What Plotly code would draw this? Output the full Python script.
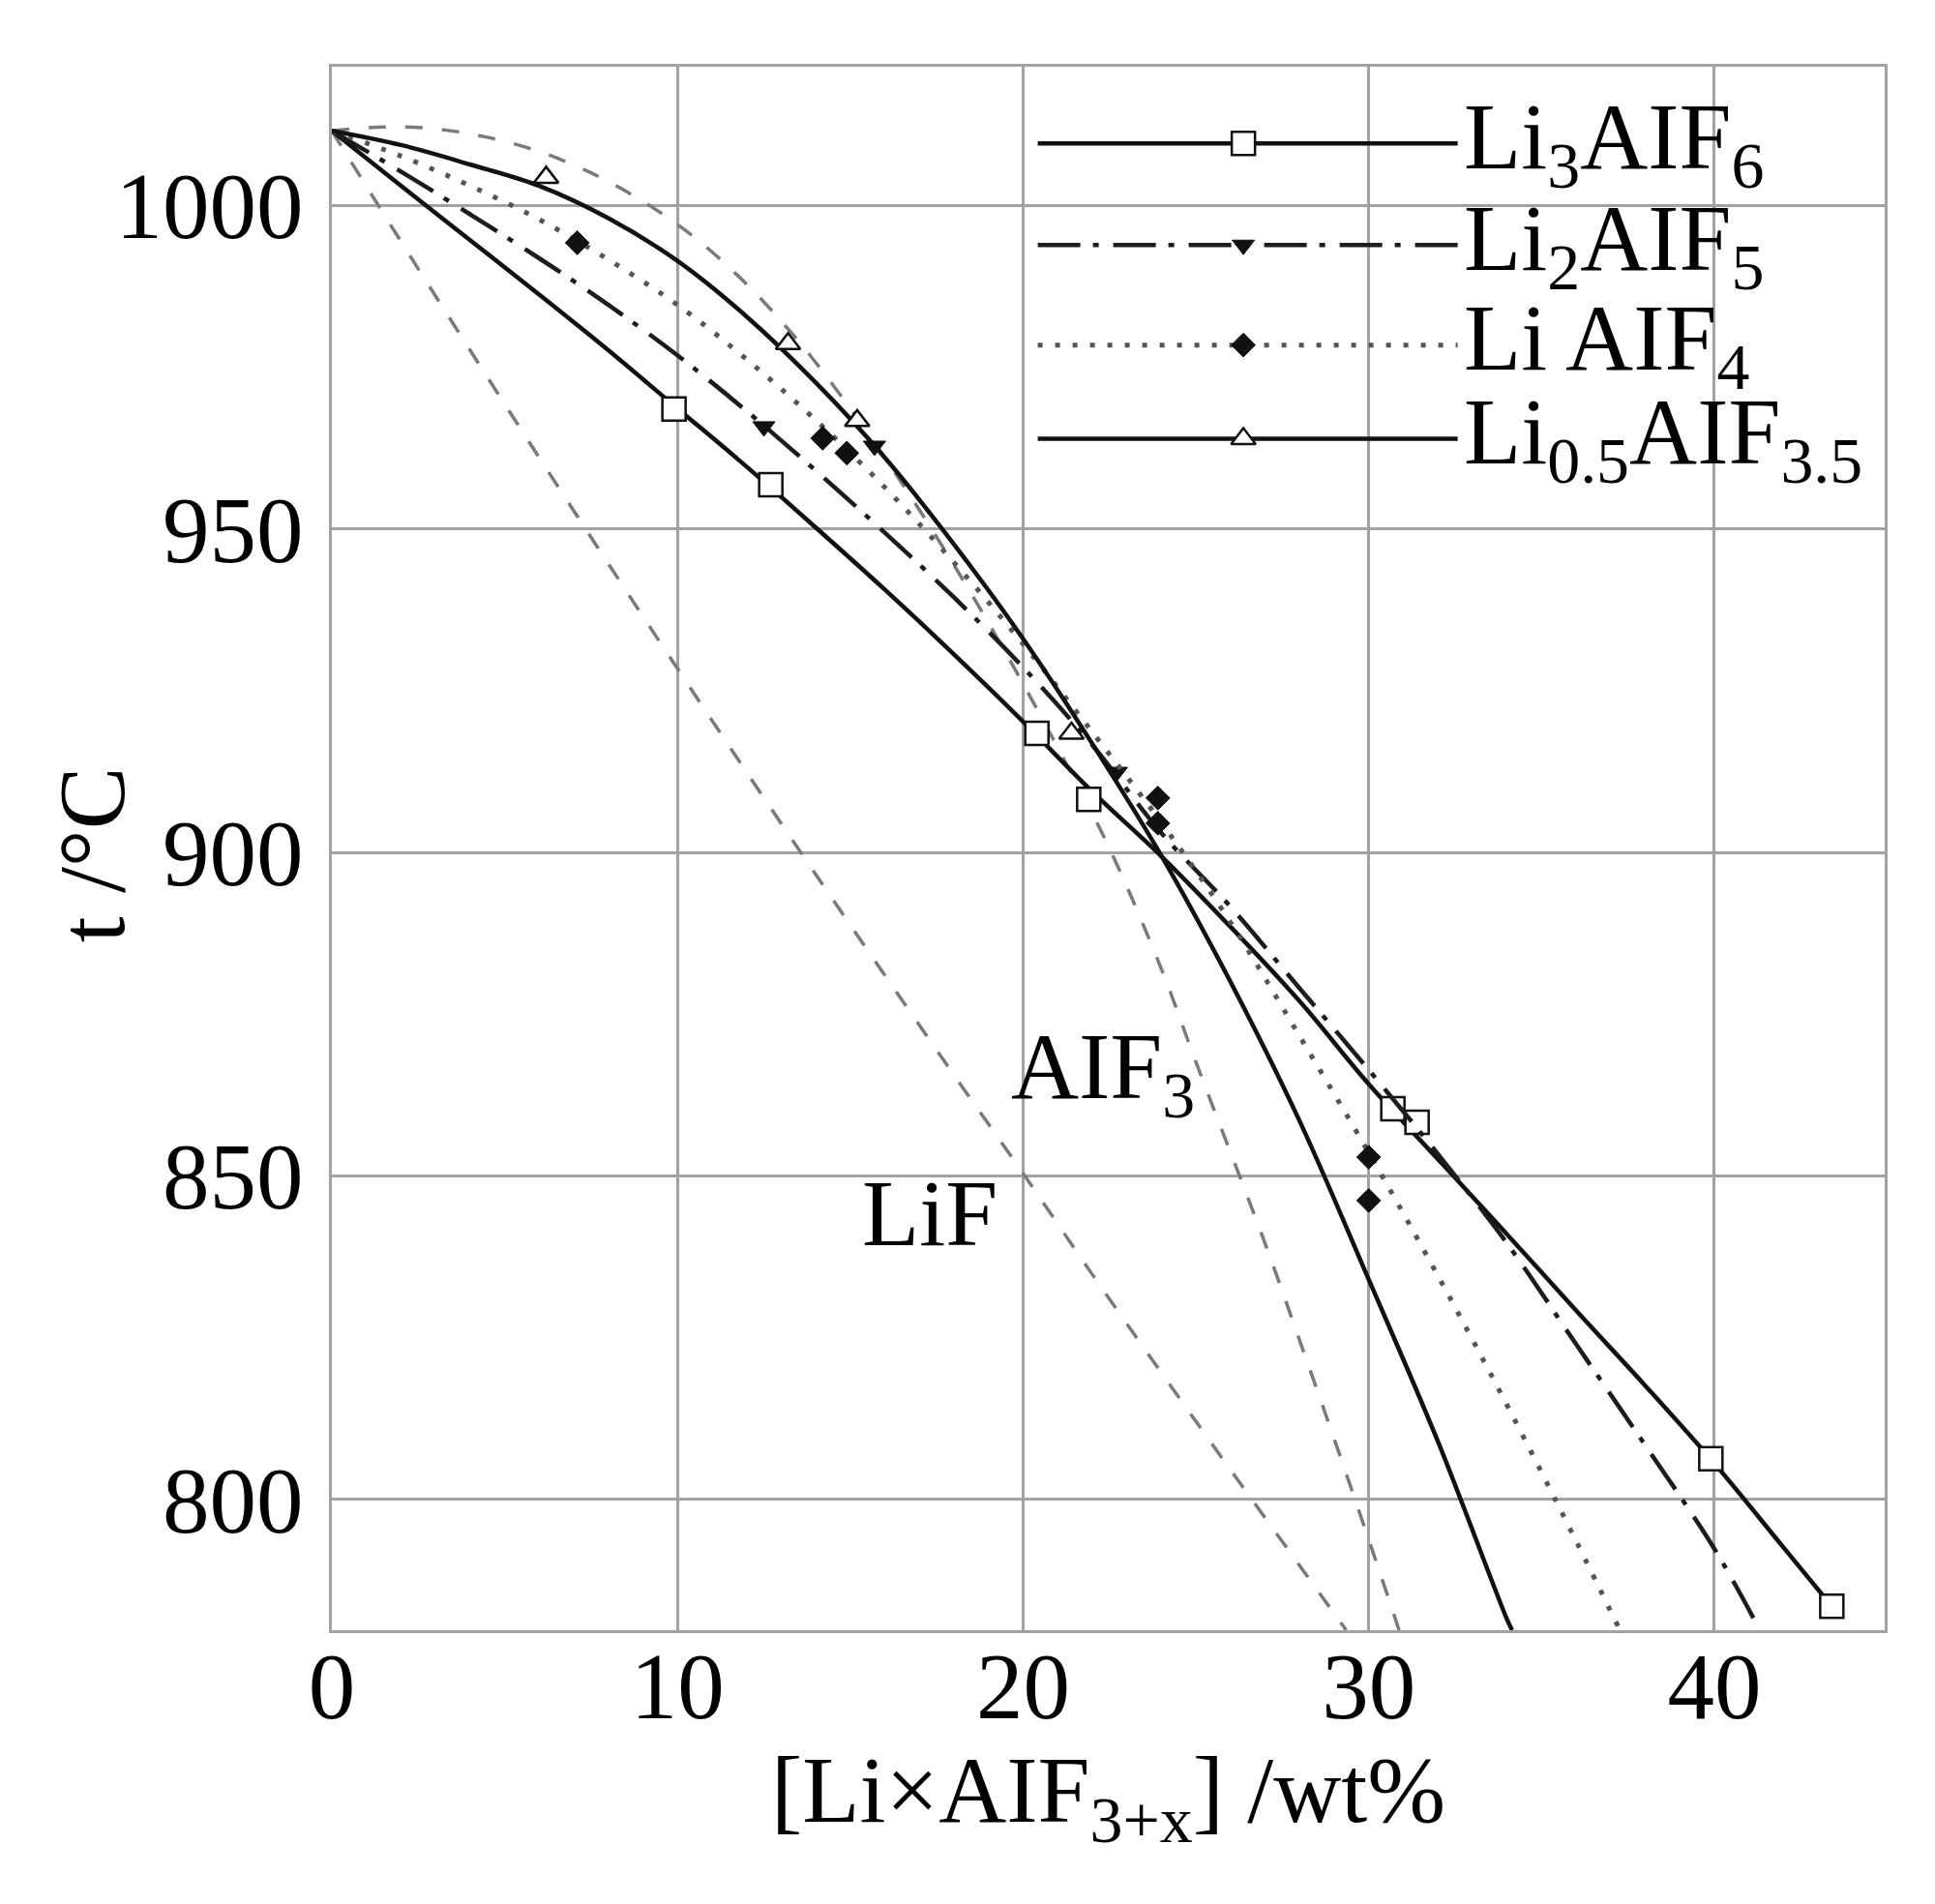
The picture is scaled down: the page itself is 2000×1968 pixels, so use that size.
import plotly.graph_objects as go

##############################################################################
# Values  (x: wt% of Li_xAlF_3+x, y: t in deg C)
##############################################################################
x_ticks = [0, 10, 20, 30, 40]
y_ticks = [800, 850, 900, 950, 1000]

series_names = ["Li<sub>3</sub>AIF<sub>6</sub>", "Li<sub>2</sub>AIF<sub>5</sub>",
                "Li AIF<sub>4</sub>", "Li<sub>0.5</sub>AIF<sub>3.5</sub>"]

# Li3AlF6 - solid line, open squares
li3_x = [0, 2, 4, 6, 8, 10, 12, 14, 16, 18, 20, 22, 24, 26, 28, 30, 32, 34, 36,
         38, 40, 42, 43.4]
li3_y = [1011.5, 1003.0, 994.6, 986.2, 977.6, 968.6, 959.6, 950.2, 940.6, 930.6,
         920.2, 909.4, 899.4, 888.5, 877.0, 864.2, 852.6, 841.0, 829.2, 817.6,
         805.6, 792.6, 783.5]
li3_pt_x = [9.9, 12.7, 20.4, 21.9, 30.7, 31.4, 39.9, 43.4]
li3_pt_y = [968.5, 956.8, 918.4, 908.2, 860.4, 858.3, 806.3, 783.5]

# Li2AlF5 - dash-dot line, filled down triangles
li2_x = [0, 2, 4, 6, 8, 10, 12, 14, 16, 18, 20, 22, 24, 26, 28, 30, 32, 34, 36,
         38, 40, 41.3]
li2_y = [1011.5, 1005.2, 998.6, 991.8, 984.6, 976.8, 968.2, 959.0, 949.4, 939.4,
         928.6, 916.6, 903.0, 891.6, 879.0, 866.4, 853.4, 839.6, 824.0, 808.4,
         792.4, 780.0]
li2_pt_x = [12.5, 15.7, 22.7]
li2_pt_y = [965.8, 962.8, 912.4]

# LiAlF4 - dotted line, filled diamonds
li1_x = [0, 2, 4, 6, 8, 10, 12, 14, 16, 18, 20, 22, 24, 26, 28, 30, 32, 34, 36, 37.25]
li1_y = [1011.5, 1007.6, 1003.0, 997.8, 991.6, 984.6, 976.2, 966.8, 956.4, 944.8,
         932.2, 918.6, 904.6, 889.2, 871.6, 853.6, 834.6, 814.6, 793.6, 780.0]
li1_pt_x = [7.1, 14.2, 14.9, 23.9, 23.9, 30.0, 30.0]
li1_pt_y = [994.2, 964.0, 961.7, 908.4, 904.5, 852.9, 846.2]

# Li0.5AlF3.5 - solid line, open triangles
li05_x = [0, 2, 4, 6, 8, 10, 12, 14, 16, 18, 20, 22, 24, 26, 28, 30, 32, 34, 34.15]
li05_y = [1011.5, 1009.3, 1006.3, 1003.0, 998.0, 991.4, 982.8, 972.6, 961.0, 947.6,
          933.0, 916.8, 899.5, 880.0, 858.5, 834.0, 809.0, 781.5, 779.8]
li05_pt_x = [6.2, 13.2, 15.2, 21.4]
li05_pt_y = [1004.3, 978.6, 966.7, 918.4]

# ideal liquidus lines (grey dashed)
lif_x = [0, 2, 4, 6, 8, 10, 12, 14, 16, 18, 20, 22, 24, 26, 28, 29.35]
lif_y = [1011.5, 994.4, 977.6, 961.0, 944.6, 928.4, 912.4, 896.6, 881.0, 865.6,
         850.4, 834.8, 819.6, 804.6, 789.8, 779.8]
alf3_x = [0, 1.5, 3, 4.5, 6, 7.5, 9, 10.5, 12, 13.5, 15, 16.5, 18, 19.5, 21, 22.5,
          24, 25, 27, 28, 29, 30, 30.6, 30.88]
alf3_y = [1011.5, 1012.1, 1011.8, 1010.5, 1008.3, 1005.0, 1000.6, 995.0, 987.8,
          979.0, 968.6, 957.0, 944.4, 930.8, 916.2, 900.6, 882.0, 867.6, 839.6,
          824.6, 809.4, 793.8, 784.3, 779.8]

##############################################################################
# Styles
##############################################################################
FONT = "Liberation Serif"
FS = 97
GRID = "#a2a2a2"
INK = "#111111"

line_styles = [
    dict(color=INK, width=4.5, dash="solid"),
    dict(color="#1c1c1c", width=4.5, dash="44px,13px,6px,15px"),
    dict(color="#555555", width=5, dash="5px,13px"),
    dict(color=INK, width=4.5, dash="solid"),
]
marker_styles = [
    dict(symbol="square", size=24, color="white", line=dict(color=INK, width=2.5)),
    dict(symbol="triangle-down", size=20, color=INK, line=dict(color=INK, width=1)),
    dict(symbol="diamond", size=19, color=INK, line=dict(color=INK, width=1)),
    dict(symbol="triangle-up", size=22, color="white", line=dict(color=INK, width=2.5)),
]
curves = [(li3_x, li3_y, li3_pt_x, li3_pt_y),
          (li2_x, li2_y, li2_pt_x, li2_pt_y),
          (li1_x, li1_y, li1_pt_x, li1_pt_y),
          (li05_x, li05_y, li05_pt_x, li05_pt_y)]

##############################################################################
# Figure
##############################################################################
fig = go.Figure()

dash_line = dict(color="#7a7a7a", width=3.5, dash="18px,20px")
fig.add_trace(go.Scatter(x=lif_x, y=lif_y, mode="lines", line=dash_line,
                         line_shape="spline", showlegend=False, name="LiF"))
fig.add_trace(go.Scatter(x=alf3_x, y=alf3_y, mode="lines", line=dash_line,
                         line_shape="spline", showlegend=False, name="AIF3"))

for (cx, cy, px, py), ls, ms, nm in zip(curves, line_styles, marker_styles, series_names):
    fig.add_trace(go.Scatter(x=cx, y=cy, mode="lines", line=ls, line_shape="spline",
                             showlegend=False, name=nm))
    fig.add_trace(go.Scatter(x=px, y=py, mode="markers", marker=ms,
                             showlegend=False, name=nm))

# hand-made legend (long sample lines) drawn on an overlay 0..1 axis pair
leg_x0, leg_x1, leg_xm, leg_text_x = 0.4546, 0.725, 0.587, 0.728
leg_rows = [0.951, 0.886, 0.822, 0.762]
for row, ls, ms, nm in zip(leg_rows, line_styles, marker_styles, series_names):
    fig.add_trace(go.Scatter(x=[leg_x0, leg_x1], y=[row, row], mode="lines", line=ls,
                             xaxis="x2", yaxis="y2", showlegend=False, hoverinfo="skip"))
    fig.add_trace(go.Scatter(x=[leg_xm], y=[row], mode="markers", marker=ms,
                             xaxis="x2", yaxis="y2", showlegend=False, hoverinfo="skip"))
    fig.add_annotation(x=leg_text_x, y=row, xref="paper", yref="paper", text=nm,
                       showarrow=False, xanchor="left", yanchor="middle",
                       font=dict(family=FONT, size=FS, color="black"))

fig.add_annotation(x=19.6, y=865.8, text="AIF<sub>3</sub>", showarrow=False,
                   xanchor="left", yanchor="middle", font=dict(family=FONT, size=FS, color="black"))
fig.add_annotation(x=17.3, y=844.2, text="LiF", showarrow=False,
                   xanchor="center", yanchor="middle", font=dict(family=FONT, size=FS, color="black"))

# y axis title placed by hand: it sits closer to the tick labels than plotly allows
fig.add_annotation(x=-0.154, y=0.496, xref="paper", yref="paper", text="t /°C",
                   textangle=-90, showarrow=False, xanchor="center", yanchor="middle",
                   font=dict(family=FONT, size=FS, color="black"))

axis_common = dict(showgrid=True, gridcolor=GRID, gridwidth=3, zeroline=False,
                   showline=True, linecolor=GRID, linewidth=3, mirror=True, ticks="",
                   tickfont=dict(family=FONT, size=FS, color="black"))

fig.update_layout(
    width=2000, height=1968,
    margin=dict(l=335, r=60, t=61, b=291),
    paper_bgcolor="white", plot_bgcolor="white",
    font=dict(family=FONT, size=FS, color="black"),
    showlegend=False,
    xaxis=dict(range=[0, 44.93], tickvals=x_ticks, ticklabelstandoff=-28,
               title=dict(text="[Li×AIF<sub>3+x</sub>] /wt%", standoff=17,
                          font=dict(family=FONT, size=FS)),
               **axis_common),
    yaxis=dict(range=[779.8, 1021.4], tickvals=y_ticks, ticklabelstandoff=7,
               **axis_common),
    xaxis2=dict(overlaying="x", anchor="y2", range=[0, 1], visible=False),
    yaxis2=dict(overlaying="y", anchor="x2", range=[0, 1], visible=False),
)

fig.write_html("out.html")
